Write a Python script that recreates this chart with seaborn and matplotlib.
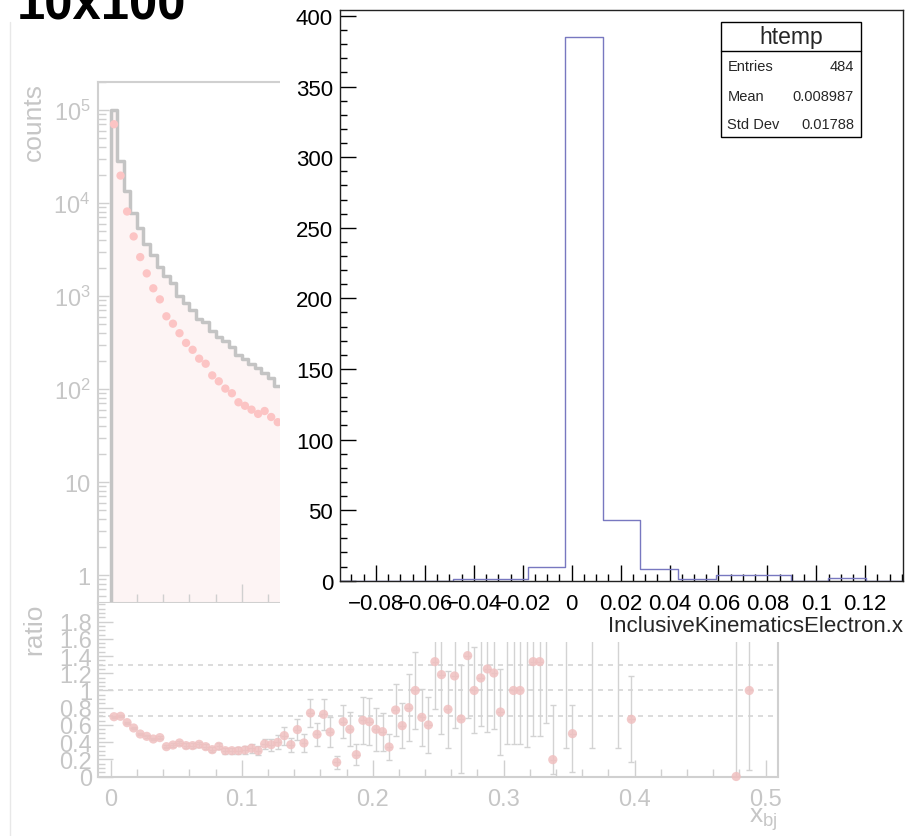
import numpy as np
import pandas as pd
import matplotlib
matplotlib.use("Agg")
import matplotlib.pyplot as plt
import seaborn as sns
from matplotlib.patches import Rectangle
from matplotlib.lines import Line2D
from matplotlib.ticker import (MultipleLocator, FixedLocator, FixedFormatter,
                               LogLocator, NullFormatter)

# ---------------- data ----------------
# left (faded) pad: x_bj distributions in 0.005-wide bins starting at 0
xbj_bin_width = 0.005
xbj_first_edge = 0.0
mc_counts = [100000, 28500, 13400, 7850, 5370, 3600, 2730, 2040, 1650, 1375,
             1010, 832, 703, 566, 525, 425, 360, 331, 280, 233,
             209, 184, 169, 148, 132, 107]
data_counts = [70300, 19700, 8100, 4370, 2620, 1750, 1210, 920, 605, 504,
               398, 313, 264, 212, 187, 140, 121, 101, 90, 72,
               66, 60, 54, 58, 50, 44]

ratio_bins = list(range(0, 68)) + [69, 70, 73, 77, 79, 95, 97]
ratio_values = [0.695, 0.700, 0.626, 0.564, 0.494, 0.467, 0.436, 0.452, 0.347, 0.366,
                0.390, 0.359, 0.359, 0.374, 0.347, 0.312, 0.351, 0.300, 0.300, 0.300,
                0.308, 0.328, 0.300, 0.378, 0.370, 0.397, 0.475, 0.370, 0.545, 0.390,
                0.738, 0.490, 0.723, 0.517, 0.165, 0.637, 0.549, 0.254, 0.653, 0.637,
                0.549, 0.521, 0.343, 0.773, 0.591, 0.800, 1.000, 0.688, 0.599, 1.335,
                1.184, 0.781, 1.169, 0.669, 1.405, 1.000, 1.145, 1.250, 1.203, 0.750,
                2.000, 1.000, 1.000, 2.000, 1.335, 1.335, 2.000, 0.196,
                2.000, 0.498, 2.000, 2.000, 0.665, 0.000, 1.000]
ratio_err_low = [0.010, 0.012, 0.012, 0.013, 0.015, 0.016, 0.017, 0.020, 0.020, 0.022,
                 0.025, 0.025, 0.028, 0.030, 0.030, 0.030, 0.035, 0.035, 0.035, 0.040,
                 0.047, 0.050, 0.050, 0.058, 0.070, 0.080, 0.105, 0.080, 0.124, 0.100,
                 0.163, 0.135, 0.180, 0.170, 0.075, 0.190, 0.200, 0.125, 0.270, 0.270,
                 0.250, 0.220, 0.150, 0.300, 0.260, 0.390, 0.450, 0.330, 0.320, 0.550,
                 0.690, 0.450, 0.600, 0.630, 0.730, 0.500, 0.560, 0.730, 0.650, 0.500,
                 1.620, 0.620, 0.620, 1.660, 0.860, 0.860, 1.380, 0.170,
                 1.670, 0.450, 1.670, 1.670, 0.500, 2.000, 0.930]
ratio_err_high = [0.010, 0.012, 0.012, 0.013, 0.015, 0.016, 0.017, 0.020, 0.020, 0.022,
                  0.025, 0.025, 0.028, 0.030, 0.030, 0.030, 0.035, 0.035, 0.035, 0.040,
                  0.047, 0.050, 0.050, 0.058, 0.070, 0.080, 0.105, 0.080, 0.124, 0.100,
                  0.163, 0.135, 0.180, 0.170, 0.075, 0.190, 0.200, 0.125, 0.270, 0.270,
                  0.250, 0.220, 0.150, 0.300, 0.260, 0.390, 0.450, 0.330, 0.320, 0.550,
                  0.690, 0.450, 0.600, 0.630, 0.730, 0.500, 0.560, 0.730, 0.650, 0.500,
                  1.620, 0.620, 0.620, 1.660, 0.860, 0.860, 1.380, 0.630,
                  1.670, 0.330, 1.670, 1.670, 0.500, 2.000, 0.930]
ratio_ref_lines = [0.7, 1.0, 1.3]
ratio_yticks = [0, 0.2, 0.4, 0.6, 0.8, 1.0, 1.2, 1.4, 1.6, 1.8]
ratio_yticklabels = ["0", "0.2", "0.4", "0.6", "0.8", "1", "1.2", "1.4", "1.6", "1.8"]
xbj_ticks = [0, 0.1, 0.2, 0.3, 0.4, 0.5]
xbj_ticklabels = ["0", "0.1", "0.2", "0.3", "0.4", "0.5"]
count_ticks = [1, 10, 100, 1e3, 1e4, 1e5]
count_ticklabels = ["1", "10", "$10^{2}$", "$10^{3}$", "$10^{4}$", "$10^{5}$"]

# right pad: htemp histogram
htemp_xmin = -0.0947
htemp_bin_width = 0.01535
htemp_counts = [0, 0, 0, 1, 1, 10, 385, 43, 8, 1, 4, 4, 0, 2, 0]
htemp_stats = [("Entries", "484"), ("Mean", "0.008987"), ("Std Dev", "0.01788")]
htemp_xticks = [-0.08, -0.06, -0.04, -0.02, 0, 0.02, 0.04, 0.06, 0.08, 0.1, 0.12]
htemp_xticklabels = ["\u22120.08", "\u22120.06", "\u22120.04", "\u22120.02", "0",
                     "0.02", "0.04", "0.06", "0.08", "0.1", "0.12"]

# ---------------- style ----------------
sns.set_style("ticks")
plt.rcParams["font.family"] = ["Liberation Sans", "DejaVu Sans"]
plt.rcParams["mathtext.default"] = "regular"
plt.rcParams["axes.unicode_minus"] = True

W, H = 924, 837
fig = plt.figure(figsize=(W / 100, H / 100), dpi=100)


def px_axes(x0, y0, x1, y1):
    return [x0 / W, 1 - y1 / H, (x1 - x0) / W, (y1 - y0) / H]


FADE_AXIS = "#d0d0d0"
FADE_TEXT = "#c6c6c6"
GRAY_HIST = "#c4c4c4"

fig.text(17 / W, 1 - 19 / H, "10x100", fontsize=36.5, fontweight="bold",
         ha="left", va="baseline", color="black")
fig.add_artist(Line2D([10 / W, 10 / W], [0, 1 - 23 / H], transform=fig.transFigure,
                      color="#e8e8e8", lw=1))

XLIM_XBJ = (-0.0101, 0.5092)

# ---- upper faded pad ----
ax_top = fig.add_axes(px_axes(97.5, 83, 777.7, 604))
edges = xbj_first_edge + np.arange(len(mc_counts) + 1) * xbj_bin_width
centers = (edges[:-1] + edges[1:]) / 2
df_top = pd.DataFrame({"xbj": centers, "mc": mc_counts, "data": data_counts})
sns.histplot(data=df_top, x="xbj", weights="mc", bins=list(edges), element="step",
             fill=False, color=GRAY_HIST, linewidth=2.5,
             log_scale=(False, True), ax=ax_top, zorder=2)
step_heights = np.r_[mc_counts, mc_counts[-1]]
ax_top.fill_between(edges, step_heights, 1e-3, step="post", color="#fdf4f4",
                    lw=0, zorder=0.5)
ax_top.vlines(edges[0], 1e-3, mc_counts[0], color=GRAY_HIST, lw=2.5, zorder=2)
sns.scatterplot(data=df_top, x="xbj", y="data", color="#fcc4c4", s=36,
                edgecolor="none", linewidth=0, ax=ax_top, zorder=4, legend=False)
ax_top.set_xlim(*XLIM_XBJ)
ax_top.set_ylim(0.5, 2e5)
ax_top.xaxis.set_major_locator(MultipleLocator(0.1))
ax_top.xaxis.set_minor_locator(MultipleLocator(0.02))
ax_top.yaxis.set_major_locator(FixedLocator(count_ticks))
ax_top.yaxis.set_major_formatter(FixedFormatter(count_ticklabels))
ax_top.yaxis.set_minor_locator(LogLocator(base=10, subs=np.arange(2, 10)))
ax_top.yaxis.set_minor_formatter(NullFormatter())
ax_top.tick_params(axis="both", which="both", direction="in", color=FADE_AXIS,
                   labelcolor=FADE_TEXT, width=1, labelsize=17)
ax_top.tick_params(axis="x", labelbottom=False)
ax_top.tick_params(axis="x", which="major", length=13.5)
ax_top.tick_params(axis="x", which="minor", length=6.5)
ax_top.tick_params(axis="y", which="major", length=8, pad=5)
ax_top.tick_params(axis="y", which="minor", length=5.5)
for s in ax_top.spines.values():
    s.set_color(FADE_AXIS)
    s.set_linewidth(1.5)
ax_top.set_xlabel("")
ax_top.set_ylabel("counts", fontsize=19, color=FADE_TEXT, loc="top")
ax_top.yaxis.set_label_coords(-0.0757, 1.0)

# ---- ratio faded pad ----
ax_rat = fig.add_axes(px_axes(97.5, 604, 777.7, 777.5))
ratio_x = xbj_first_edge + (np.array(ratio_bins) + 0.5) * xbj_bin_width
for yref in ratio_ref_lines:
    ax_rat.axhline(yref, color="#d6d6d6", lw=1.2, ls=(0, (3, 3)), zorder=1)
ax_rat.errorbar(ratio_x, ratio_values, yerr=[ratio_err_low, ratio_err_high], fmt="none",
                ecolor="#d3d3d3", elinewidth=1, capsize=2.5, capthick=1, zorder=2)
ax_rat.errorbar(ratio_x, ratio_values, xerr=xbj_bin_width / 2, fmt="none",
                ecolor="#d3d3d3", elinewidth=1, zorder=2)
sns.scatterplot(x=ratio_x, y=ratio_values, color="#f0c0c0", s=44, edgecolor="none",
                linewidth=0, alpha=0.85, ax=ax_rat, zorder=3, clip_on=False, legend=False)
ax_rat.set_xlim(*XLIM_XBJ)
ax_rat.set_ylim(0, 2.017)
ax_rat.xaxis.set_major_locator(FixedLocator(xbj_ticks))
ax_rat.xaxis.set_major_formatter(FixedFormatter(xbj_ticklabels))
ax_rat.xaxis.set_minor_locator(MultipleLocator(0.02))
ax_rat.yaxis.set_major_locator(FixedLocator(ratio_yticks))
ax_rat.yaxis.set_major_formatter(FixedFormatter(ratio_yticklabels))
ax_rat.yaxis.set_minor_locator(MultipleLocator(0.05))
ax_rat.tick_params(axis="both", which="both", direction="in", color=FADE_AXIS,
                   labelcolor=FADE_TEXT, width=1, labelsize=17)
ax_rat.tick_params(axis="x", which="major", length=12, pad=8)
ax_rat.tick_params(axis="x", which="minor", length=6)
ax_rat.tick_params(axis="y", which="major", length=11, pad=4)
ax_rat.tick_params(axis="y", which="minor", length=5)
for s in ax_rat.spines.values():
    s.set_color(FADE_AXIS)
    s.set_linewidth(1.5)
ax_rat.spines["top"].set_visible(False)
ax_rat.set_ylabel("ratio", fontsize=19, color=FADE_TEXT, loc="top")
ax_rat.yaxis.set_label_coords(-0.0757, 1.0)
ax_rat.set_xlabel("x$_{bj}$", fontsize=19, color=FADE_TEXT, loc="right")
ax_rat.xaxis.set_label_coords(1.0, -0.164)

# ---- white cover of right pad ----
fig.add_artist(Rectangle((280 / W, 1 - 643 / H), (W - 280) / W, 643 / H,
                         transform=fig.transFigure, facecolor="white",
                         edgecolor="none", zorder=5))

# ---- right pad: htemp ----
ax_r = fig.add_axes(px_axes(340, 11, 903.3, 581.7))
ax_r.set_zorder(10)
ax_r.set_facecolor("white")
edges_r = htemp_xmin + np.arange(len(htemp_counts) + 1) * htemp_bin_width
centers_r = (edges_r[:-1] + edges_r[1:]) / 2
sns.histplot(x=centers_r, weights=htemp_counts, bins=list(edges_r), element="step",
             fill=False, color="#7878c0", linewidth=1.0, ax=ax_r)
ax_r.set_xlim(edges_r[0], edges_r[-1])
ax_r.set_ylim(0, 404.25)
ax_r.xaxis.set_major_locator(FixedLocator(htemp_xticks))
ax_r.xaxis.set_major_formatter(FixedFormatter(htemp_xticklabels))
ax_r.xaxis.set_minor_locator(MultipleLocator(0.005))
ax_r.yaxis.set_major_locator(MultipleLocator(50))
ax_r.yaxis.set_minor_locator(MultipleLocator(10))
ax_r.tick_params(axis="both", which="both", direction="in", color="black",
                 labelcolor="black", width=1, labelsize=16)
ax_r.tick_params(axis="both", which="major", length=11.5)
ax_r.tick_params(axis="both", which="minor", length=5)
ax_r.tick_params(axis="x", pad=9)
ax_r.tick_params(axis="y", pad=5)
for s in ax_r.spines.values():
    s.set_color("#222222")
    s.set_linewidth(1)
ax_r.set_ylabel("")
ax_r.set_xlabel("InclusiveKinematicsElectron.x", fontsize=16, loc="right")
ax_r.xaxis.set_label_coords(1.0, -0.0595)

# stats box
bx0, bx1, by0, by1 = 0.6758, 0.9254, 0.7769, 0.9784
ax_r.add_patch(Rectangle((bx0, by0), bx1 - bx0, by1 - by0, transform=ax_r.transAxes,
                         facecolor="white", edgecolor="black", lw=1, zorder=20, clip_on=False))
ax_r.add_line(Line2D([bx0, bx1], [0.9287, 0.9287], transform=ax_r.transAxes,
                     color="black", lw=1, zorder=21))
ax_r.text((bx0 + bx1) / 2, 0.9416, "htemp", transform=ax_r.transAxes, fontsize=16.5,
          ha="center", va="baseline", zorder=22)
for (name, val), yb in zip(htemp_stats, [0.8948, 0.8428, 0.7927]):
    ax_r.text(0.6875, yb, name, transform=ax_r.transAxes, fontsize=10.5,
              ha="left", va="baseline", zorder=22)
    ax_r.text(0.9125, yb, val, transform=ax_r.transAxes, fontsize=10.5,
              ha="right", va="baseline", zorder=22)

fig.savefig("out.png", dpi=100)
